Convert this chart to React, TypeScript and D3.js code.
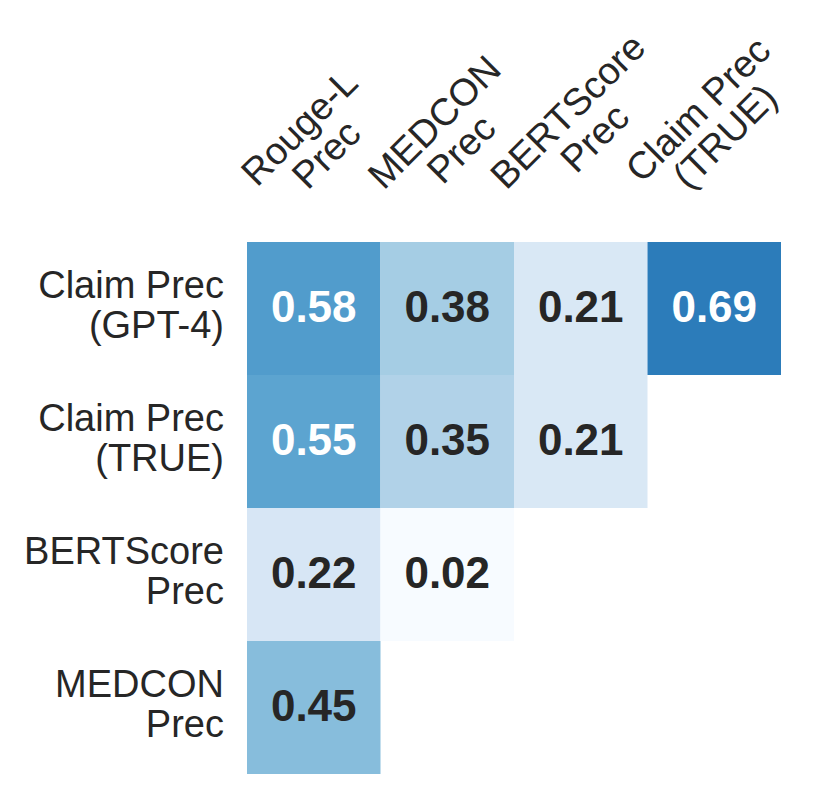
import * as d3 from 'd3'

const W = 831
const H = 797
const FONT = '"Liberation Sans", Arial, Helvetica, sans-serif'

// columns (x) and rows (y) of the lower-triangle heatmap
const colLabels = [
  ['Rouge-L', 'Prec'],
  ['MEDCON', 'Prec'],
  ['BERTScore', 'Prec'],
  ['Claim Prec', '(TRUE)'],
]
const rowLabels = [
  ['Claim Prec', '(GPT-4)'],
  ['Claim Prec', '(TRUE)'],
  ['BERTScore', 'Prec'],
  ['MEDCON', 'Prec'],
]
// null = masked cell
const values: (number | null)[][] = [
  [0.58, 0.38, 0.21, 0.69],
  [0.55, 0.35, 0.21, null],
  [0.22, 0.02, null, null],
  [0.45, null, null, null],
]

const MARGIN = { left: 247, right: 50, top: 242, bottom: 23 }
const LABEL_FS = 38
const ANNOT_FS = 44

let ctx: CanvasRenderingContext2D | null = null
function textWidth(s: string, fs: number) {
  if (!ctx) ctx = document.createElement('canvas').getContext('2d')
  if (!ctx) return s.length * fs * 0.55
  ctx.font = `${fs}px ${FONT}`
  return ctx.measureText(s).width
}

export default function App() {
  const boundsW = W - MARGIN.left - MARGIN.right
  const boundsH = H - MARGIN.top - MARGIN.bottom

  const xScale = d3.scaleBand().domain(d3.range(colLabels.length).map(String)).range([0, boundsW])
  const yScale = d3.scaleBand().domain(d3.range(rowLabels.length).map(String)).range([0, boundsH])
  const color = d3.scaleSequential(d3.interpolateBlues).domain([0.08, 0.94])

  const bw = xScale.bandwidth()
  const bh = yScale.bandwidth()

  const cells = values.flatMap((row, r) =>
    row.map((v, c) => {
      if (v === null) return null
      const x = xScale(String(c))!
      const y = yScale(String(r))!
      return (
        <g key={`${r}-${c}`}>
          <rect x={x} y={y} width={bw} height={bh} fill={color(v)} />
          <text
            x={x + bw / 2}
            y={y + bh / 2 - 2}
            textAnchor="middle"
            dominantBaseline="central"
            fontSize={ANNOT_FS}
            fontWeight="bold"
            fill={v > 0.5 ? '#ffffff' : '#262626'}
          >
            {v.toFixed(2)}
          </text>
        </g>
      )
    })
  )

  const LINE = 40
  const rowTicks = rowLabels.map((lines, r) => {
    const cy = MARGIN.top + yScale(String(r))! + bh / 2 - 3.5
    return (
      <text key={r} textAnchor="end" fontSize={LABEL_FS} fill="#262626">
        {lines.map((l, i) => (
          <tspan key={i} x={MARGIN.left - 23} y={cy + (i - (lines.length - 1) / 2) * LINE} dominantBaseline="central">
            {l}
          </tspan>
        ))}
      </text>
    )
  })

  // rotated column labels: bbox bottom at fixed y, bbox centered a bit left of the column
  const COL_LINE = 38
  const a = Math.SQRT1_2
  const colTicks = colLabels.map((lines, c) => {
    const cx = MARGIN.left + xScale(String(c))! + bw / 2
    let minX = Infinity
    let maxX = -Infinity
    let maxY = -Infinity
    lines.forEach((l, i) => {
      const w = textWidth(l, LABEL_FS)
      const v = (i - (lines.length - 1) / 2) * COL_LINE
      for (const u of [-w / 2, w / 2]) {
        for (const dv of [-0.38 * LABEL_FS, 0.38 * LABEL_FS]) {
          const px = a * (u + v + dv)
          const py = a * (-u + v + dv)
          minX = Math.min(minX, px)
          maxX = Math.max(maxX, px)
          maxY = Math.max(maxY, py)
        }
      }
    })
    const tx = cx - 13 - (minX + maxX) / 2
    const ty = 192 - maxY
    return (
      <g key={c} transform={`translate(${tx},${ty}) rotate(-45)`}>
        {lines.map((l, i) => (
          <text
            key={i}
            x={0}
            y={(i - (lines.length - 1) / 2) * COL_LINE}
            textAnchor="middle"
            dominantBaseline="central"
            fontSize={LABEL_FS}
            fill="#262626"
          >
            {l}
          </text>
        ))}
      </g>
    )
  })

  return (
    <div style={{ position: 'absolute', left: 0, top: 0 }}>
      <svg width={W} height={H} fontFamily={FONT} style={{ display: 'block', background: '#fff' }}>
        <g transform={`translate(${MARGIN.left},${MARGIN.top})`}>{cells}</g>
        {rowTicks}
        {colTicks}
      </svg>
    </div>
  )
}
